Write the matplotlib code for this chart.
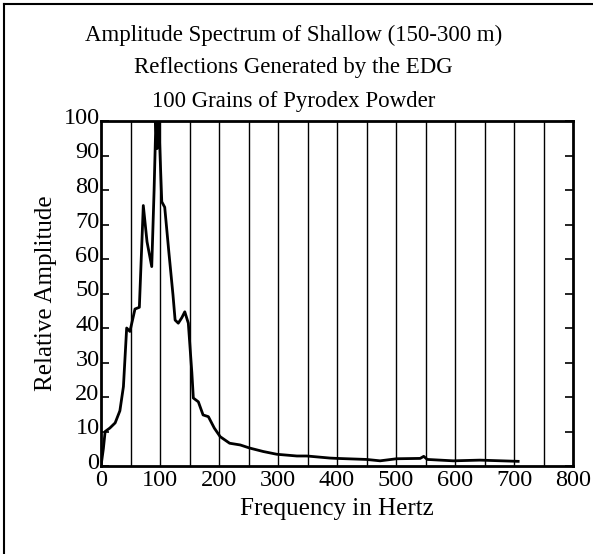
import numpy as np
import matplotlib.pyplot as plt
import matplotlib.transforms as mtransforms
from matplotlib.lines import Line2D

# spectrum
freq = [0, 4, 7, 15, 24, 32, 38, 43.5, 49, 53, 57.6, 65, 71.7, 78, 86, 90, 93, 95,
        98, 103, 108, 115, 122, 125.6, 131, 137, 142, 148, 154, 156.5, 165, 173,
        182, 192, 202, 218, 236, 252, 275, 298, 332, 349, 388, 400, 450, 473, 501,
        541, 547, 553, 597, 642, 707]
amp = [0, 5, 10, 11, 12.5, 16, 23, 40, 39, 42, 45.5, 46, 75.5, 65, 57.8, 80, 100, 92,
       100, 76.6, 75, 62, 49.6, 42.3, 41.4, 43, 44.7, 41.4, 27, 19.7, 18.6, 14.8,
       14.3, 11, 8.5, 6.6, 6.1, 5.2, 4.2, 3.4, 2.9, 2.9, 2.3, 2.2, 1.9, 1.5, 2.1,
       2.2, 2.8, 1.9, 1.5, 1.7, 1.35]

xticks = [0, 100, 200, 300, 400, 500, 600, 700, 800]
yticks = list(range(0, 101, 10))
grid_x = list(range(50, 800, 50))

title_lines = ["Amplitude Spectrum of Shallow (150-300 m)",
               "Reflections Generated by the EDG",
               "100 Grains of Pyrodex Powder"]

plt.rcParams['font.family'] = ['Liberation Serif', 'DejaVu Serif']

fig = plt.figure(figsize=(5.93, 5.54), dpi=100)
ax = fig.add_axes([101/593, 1 - 466/554, 472/593, 345/554])

for g in grid_x:
    ax.axvline(g, color='black', lw=1.0, zorder=1)
ax.plot(freq, amp, color='black', lw=2.0, zorder=2)

ax.set_xlim(0, 800)
ax.set_ylim(0, 100)
ax.set_xticks(xticks)
ax.set_yticks(yticks)
ax.tick_params(axis='x', length=0, pad=3, labelsize=17.5)
ax.tick_params(axis='y', direction='in', length=6, width=1.2, pad=1,
               labelsize=17.5, left=True, right=True)
for s in ax.spines.values():
    s.set_linewidth(2.0)

# y labels sit a little above their ticks in the original
shift = mtransforms.ScaledTranslation(0, 5/100, fig.dpi_scale_trans)
for lab in ax.get_yticklabels():
    lab.set_transform(lab.get_transform() + shift)

ax.set_xlabel("Frequency in Hertz", fontsize=18, labelpad=5)
ax.set_ylabel("Relative Amplitude", fontsize=18, labelpad=5)

for i, t in enumerate(title_lines):
    fig.text(0.495, 1 - (35 + 33 * i) / 554, t, ha='center', va='center', fontsize=16.5)

# scanned page frame (top and left edges)
fig.add_artist(Line2D([4/593, 4/593], [0, 1 - 4/554], color='black', lw=1.5,
                      transform=fig.transFigure))
fig.add_artist(Line2D([4/593, 1], [1 - 4/554, 1 - 4/554], color='black', lw=1.5,
                      transform=fig.transFigure))

fig.savefig("out.png", dpi=100)
